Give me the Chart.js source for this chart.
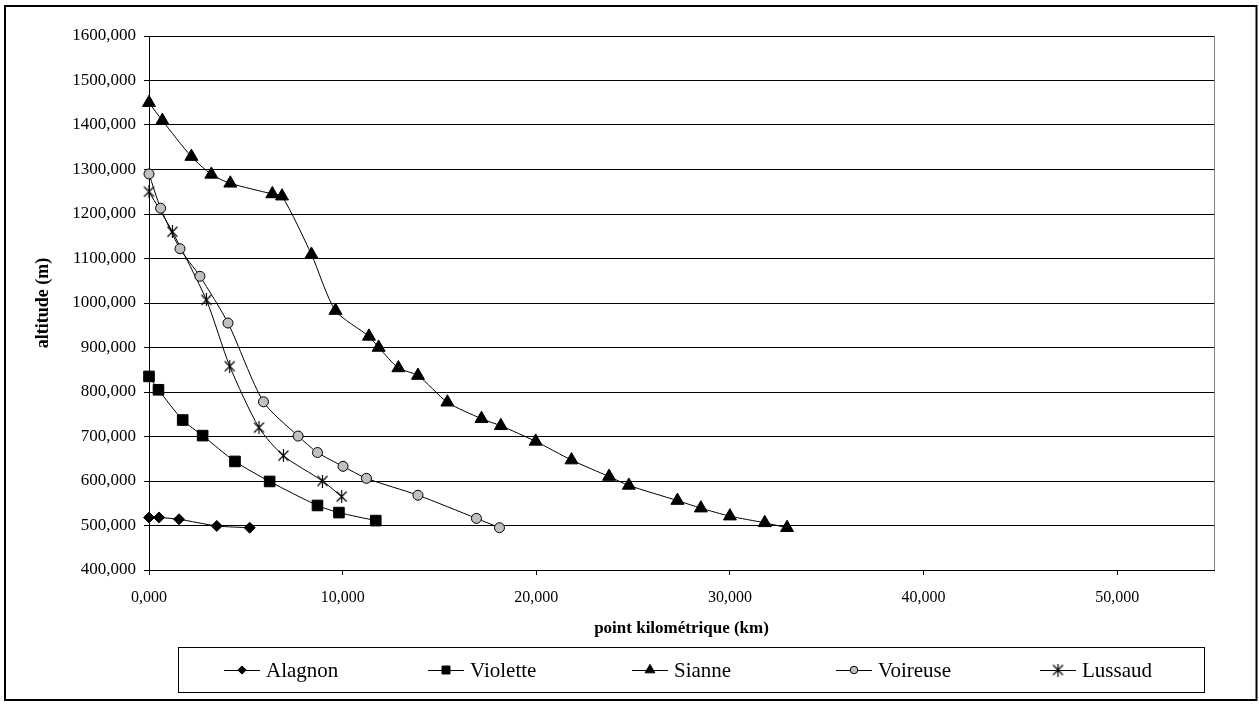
<!DOCTYPE html>
<html>
<head>
<meta charset="utf-8">
<script src="https://cdn.jsdelivr.net/npm/chart.js@4/dist/chart.umd.min.js"></script>
<style>
  html, body { margin: 0; padding: 0; background: #fff; }
  canvas { display: block; }
</style>
</head>
<body>
<canvas id="chart" width="1259" height="706"></canvas>
<script>
// valeurs (pk en km, altitude en m)
const seriesNames = ["Alagnon", "Violette", "Sianne", "Voireuse", "Lussaud"];

const alagnonKm  = [0, 0.52, 1.55, 3.50, 5.20];
const alagnonAlt = [518, 518, 514, 499, 495];

const violetteKm  = [0, 0.49, 1.74, 2.77, 4.44, 6.23, 8.70, 9.81, 11.71];
const violetteAlt = [835, 805, 737, 702, 644, 599, 545, 529, 511];

const sianneKm  = [0, 0.69, 2.19, 3.22, 4.20, 6.37, 6.87, 8.39, 9.63, 11.36, 11.86, 12.88, 13.89,
                   15.41, 17.17, 18.17, 19.97, 21.82, 23.76, 24.78, 27.29, 28.50, 30.00, 31.80, 32.95];
const sianneAlt = [1450, 1410, 1329, 1289, 1269, 1245, 1240, 1109, 983, 925, 900, 854, 837,
                   777, 740, 724, 689, 647, 610, 590, 556, 539, 521, 506, 495];

const voireuseKm  = [0, 0.60, 1.60, 2.63, 4.08, 5.91, 7.70, 8.70, 10.02, 11.23, 13.89, 16.91, 18.10];
const voireuseAlt = [1290, 1213, 1122, 1060, 955, 778, 701, 664, 633, 606, 568, 516, 495];

const lussaudKm  = [0, 1.21, 2.96, 4.17, 5.68, 6.94, 8.96, 9.95];
const lussaudAlt = [1250, 1160, 1007, 858, 720, 657, 600, 565];

const xTicks = [0, 10, 20, 30, 40, 50];

const FONT = '"Liberation Serif", "Times New Roman", serif';

(() => {
  const $ = (id) => document.getElementById(id);

  // format français : 1600,000
  const fmt3 = (v) => Number(v).toFixed(3).replace(".", ",");

  const pts = (xs, ys) => xs.map((x, i) => ({ x, y: ys[i] }));

  // marqueur étoile façon Excel (X + trait vertical)
  function starMarker() {
    const c = document.createElement("canvas");
    c.width = 13; c.height = 13;
    const g = c.getContext("2d");
    g.strokeStyle = "#000";
    g.lineWidth = 1.2;
    g.beginPath();
    g.moveTo(1.5, 1.5); g.lineTo(11.5, 11.5);
    g.moveTo(11.5, 1.5); g.lineTo(1.5, 11.5);
    g.moveTo(6.5, 0); g.lineTo(6.5, 13);
    g.stroke();
    return c;
  }
  const star = starMarker();

  const base = {
    borderColor: "#000",
    borderWidth: 1,
    tension: 0.25,
    pointBorderColor: "#000",
    pointBackgroundColor: "#000",
    pointBorderWidth: 1,
    clip: false,
    fill: false
  };

  const datasets = [
    { ...base, label: seriesNames[0], data: pts(alagnonKm, alagnonAlt), pointStyle: "rectRot", pointRadius: 5.5 },
    { ...base, label: seriesNames[1], data: pts(violetteKm, violetteAlt), pointStyle: "rect", pointRadius: 7.5 },
    { ...base, label: seriesNames[2], data: pts(sianneKm, sianneAlt), pointStyle: "triangle", pointRadius: 7.5 },
    { ...base, label: seriesNames[3], data: pts(voireuseKm, voireuseAlt), pointStyle: "circle", pointRadius: 5,
      pointBackgroundColor: "#c0c0c0" },
    { ...base, label: seriesNames[4], data: pts(lussaudKm, lussaudAlt), pointStyle: star, pointRadius: 6 }
  ];

  // fond, cadre extérieur et bordure de la zone de traçage
  const frame = {
    id: "frame",
    beforeDraw(chart) {
      const { ctx, chartArea: a } = chart;
      ctx.save();
      ctx.fillStyle = "#fff";
      ctx.fillRect(0, 0, chart.width, chart.height);
      ctx.strokeStyle = "#808080";
      ctx.lineWidth = 1;
      ctx.strokeRect(a.left + 0.5, a.top + 0.5, a.right - a.left, a.bottom - a.top);
      ctx.strokeStyle = "#000";
      ctx.lineWidth = 2;
      ctx.strokeRect(5, 6, 1251.5, 694);
      ctx.restore();
    }
  };

  // titres d'axes + légende encadrée
  const extras = {
    id: "extras",
    afterDraw(chart) {
      const { ctx, chartArea: a } = chart;
      ctx.save();
      ctx.fillStyle = "#000";
      ctx.font = `bold 17px ${FONT}`;
      ctx.textAlign = "center";
      ctx.textBaseline = "middle";
      ctx.fillText("point kilométrique (km)", (a.left + a.right) / 2, 629);

      ctx.font = `bold 18px ${FONT}`;
      ctx.translate(43, (a.top + a.bottom) / 2);
      ctx.rotate(-Math.PI / 2);
      ctx.fillText("altitude (m)", 0, 0);
      ctx.setTransform(1, 0, 0, 1, 0, 0);

      // légende
      ctx.strokeStyle = "#000";
      ctx.lineWidth = 1;
      ctx.strokeRect(178.5, 647.5, 1026, 45);
      const ly = 670;
      ctx.font = `21px ${FONT}`;
      ctx.textAlign = "left";
      chart.data.datasets.forEach((ds, i) => {
        const x0 = 224 + i * 204;
        ctx.beginPath();
        ctx.moveTo(x0, ly + 0.5);
        ctx.lineTo(x0 + 36, ly + 0.5);
        ctx.stroke();
        ctx.fillStyle = ds.pointBackgroundColor;
        ctx.strokeStyle = "#000";
        Chart.helpers.drawPoint(ctx, {
          pointStyle: ds.pointStyle,
          radius: ds.pointRadius * 0.75,
          rotation: 0,
          borderWidth: 1
        }, x0 + 18, ly);
        ctx.fillStyle = "#000";
        ctx.fillText(ds.label, x0 + 42, ly + 1);
      });
      ctx.restore();
    }
  };

  new Chart($("chart"), {
    type: "line",
    data: { datasets },
    options: {
      responsive: false,
      animation: false,
      events: [],
      layout: { padding: { left: 0, right: 45, top: 36, bottom: 0 } },
      plugins: {
        legend: { display: false },
        tooltip: { enabled: false }
      },
      scales: {
        x: {
          type: "linear",
          min: 0,
          max: 55,
          afterFit: (s) => { s.height = 136; },
          afterBuildTicks: (s) => { s.ticks = xTicks.map(v => ({ value: v })); },
          ticks: {
            callback: fmt3,
            color: "#000",
            padding: 13,
            maxRotation: 0,
            font: { family: FONT, size: 16 }
          },
          grid: { drawOnChartArea: false, tickLength: 5, color: "#000" },
          border: { color: "#000", width: 1 }
        },
        y: {
          type: "linear",
          min: 400,
          max: 1600,
          afterFit: (s) => { s.width = 149; },
          ticks: {
            stepSize: 100,
            callback: fmt3,
            color: "#000",
            padding: 8,
            font: { family: FONT, size: 17 }
          },
          grid: { color: "#000", tickLength: 5 },
          border: { color: "#000", width: 1 }
        }
      }
    },
    plugins: [frame, extras]
  });
})();
</script>
</body>
</html>
